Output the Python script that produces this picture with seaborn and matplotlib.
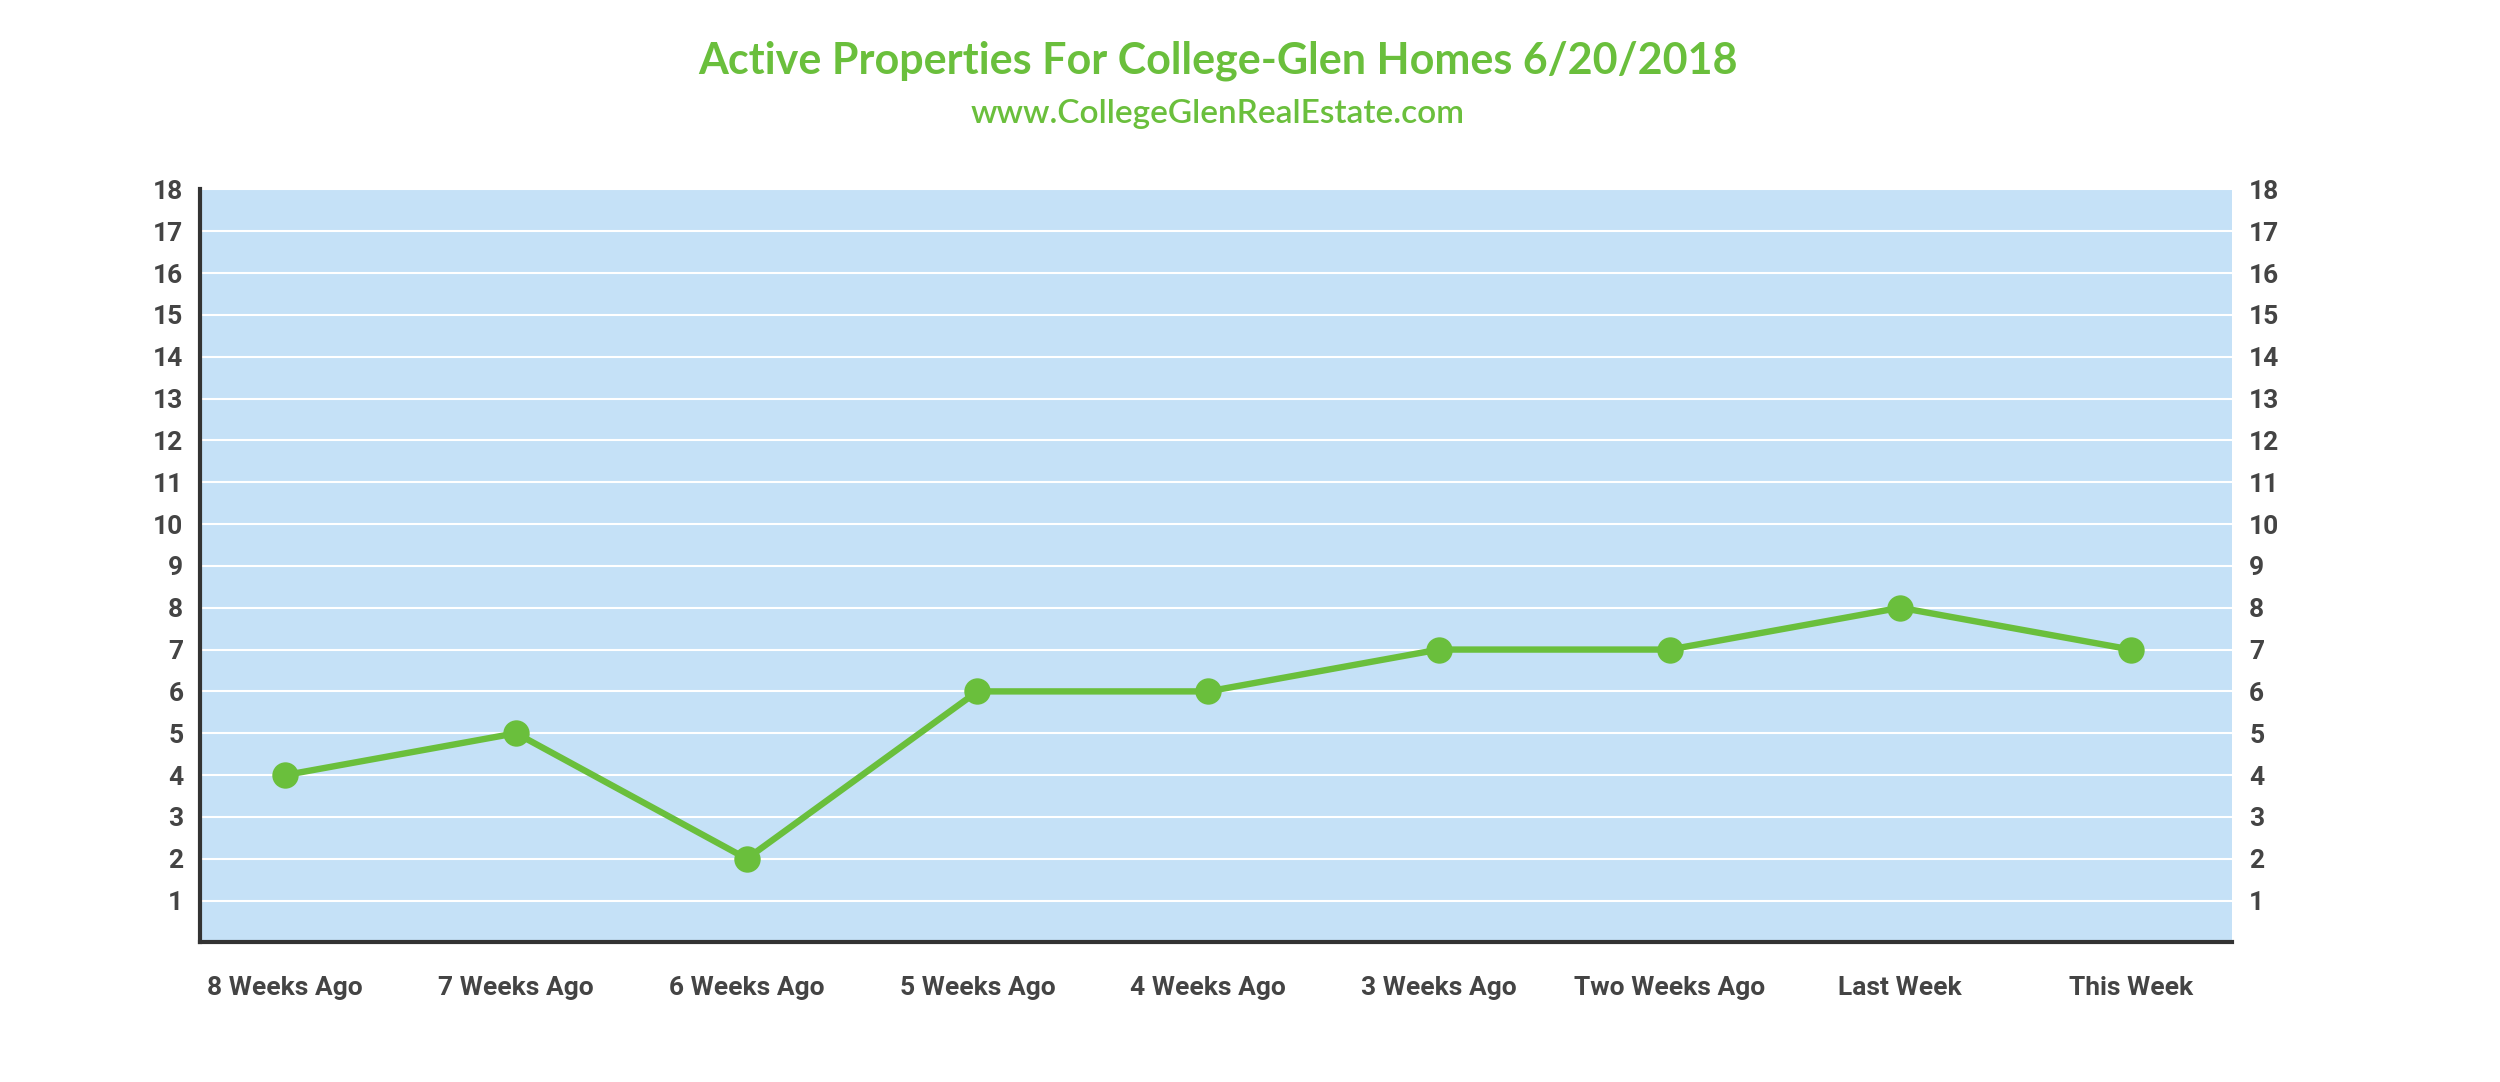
import matplotlib
matplotlib.use("Agg")
import matplotlib.pyplot as plt
import seaborn as sns
import pandas as pd

weeks = ["8 Weeks Ago", "7 Weeks Ago", "6 Weeks Ago", "5 Weeks Ago", "4 Weeks Ago",
         "3 Weeks Ago", "Two Weeks Ago", "Last Week", "This Week"]
active = [4, 5, 2, 6, 6, 7, 7, 8, 7]
yticks = list(range(1, 19))

green = "#6ABF3C"
dark = "#444444"
plt.rcParams["font.family"] = ["Liberation Sans Narrow", "Roboto", "DejaVu Sans"]

df = pd.DataFrame({"week": weeks, "active": active})

fig = plt.figure(figsize=(25, 10.82), dpi=100)
ax = fig.add_axes([0.080, 0.129, 0.813, 0.696])
ax.set_facecolor("#C5E1F7")
sns.lineplot(data=df, x="week", y="active", ax=ax, color=green, linewidth=4.6,
             marker="o", markersize=19, markeredgewidth=0, sort=False)

ax.set_xlim(-0.37, 8.44)
ax.set_ylim(0, 18)
ax.set_yticks(yticks)
ax.grid(axis="y", color="white", linewidth=1.5)
ax.set_axisbelow(True)
ax.set_xlabel("")
ax.set_ylabel("")
for s in ["top", "right"]:
    ax.spines[s].set_visible(False)
for s in ["left", "bottom"]:
    ax.spines[s].set_color("#333333")
    ax.spines[s].set_linewidth(3)
ax.tick_params(axis="x", length=0, labelsize=19, labelcolor=dark, pad=24)
ax.tick_params(axis="y", length=0, labelsize=19, labelcolor=dark, pad=12)
for lab in ax.get_xticklabels() + ax.get_yticklabels():
    lab.set_fontweight("bold")

ax2 = ax.twinx()
ax2.set_ylim(0, 18)
ax2.set_yticks(yticks)
ax2.tick_params(axis="y", length=0, labelsize=19, labelcolor=dark, pad=12)
for lab in ax2.get_yticklabels():
    lab.set_fontweight("bold")
for s in ax2.spines.values():
    s.set_visible(False)

fig.text(0.487, 0.944, "Active Properties For College-Glen Homes 6/20/2018",
         ha="center", va="center", color=green, fontsize=31, fontweight="bold",
         family=["Lato", "DejaVu Sans"])
fig.text(0.487, 0.895, "www.CollegeGlenRealEstate.com", ha="center", va="center",
         color=green, fontsize=24, fontweight="semibold",
         family=["Lato", "DejaVu Sans"])

fig.savefig("out.png", dpi=100, facecolor="white")
